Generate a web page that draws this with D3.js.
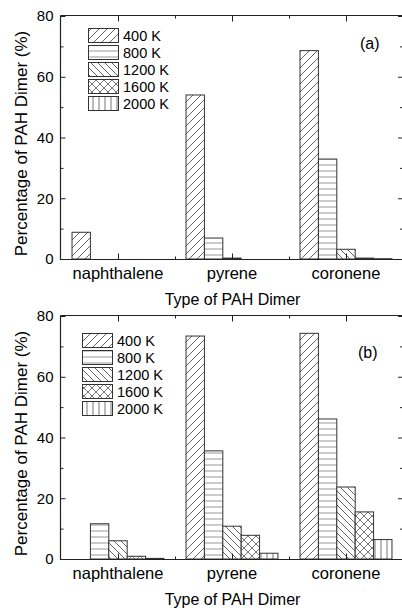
<!DOCTYPE html>
<html><head><meta charset="utf-8">
<script src="https://cdn.jsdelivr.net/npm/d3@7"></script>
<style>body{margin:0;background:#fff}svg{display:block}text{font-family:"Liberation Sans",Arial,sans-serif;fill:#000}</style>
</head><body><svg id="c" width="402" height="608"></svg>
<script>
const categories = ["naphthalene", "pyrene", "coronene"];
const seriesNames = ["400 K", "800 K", "1200 K", "1600 K", "2000 K"];
const yTicks = [0, 20, 40, 60, 80];
// panel (a)
const a400 = [8.8, 54.0, 68.6];
const a800 = [0, 6.9, 32.9];
const a1200 = [0, 0.3, 3.2];
const a1600 = [0, 0, 0.3];
const a2000 = [0, 0, 0.1];
// panel (b)
const b400 = [0, 73.4, 74.3];
const b800 = [11.6, 35.6, 46.1];
const b1200 = [6.0, 10.8, 23.7];
const b1600 = [0.9, 7.8, 15.5];
const b2000 = [0.2, 1.9, 6.4];

const panels = [
  {label: "(a)", top: 16, bottom: 259, vals: [a400, a800, a1200, a1600, a2000], legX: 88, legY: 28, tagX: 360, tagY: 49},
  {label: "(b)", top: 316, bottom: 559, vals: [b400, b800, b1200, b1600, b2000], legX: 82, legY: 333, tagX: 358, tagY: 358}
];

const svg = d3.select("#c");
const defs = svg.append("defs");
const patId = ["p400", "p800", "p1200", "p1600", "p2000"];
function pat(id, w, h, d, col, sw) {
  const p = defs.append("pattern").attr("id", id).attr("patternUnits", "userSpaceOnUse").attr("width", w).attr("height", h);
  p.append("rect").attr("width", w).attr("height", h).attr("fill", "#fff");
  p.append("path").attr("d", d).attr("stroke", col).attr("stroke-width", sw).attr("fill", "none");
}
pat("p400", 8, 8, "M-2,2L2,-2M0,8L8,0M6,10L10,6", "#555", 0.9);
pat("p800", 6, 6, "M0,3H6", "#999", 1);
pat("p1200", 7, 7, "M-2,5L2,9M0,0L7,7M5,-2L9,2", "#555", 0.9);
pat("p1600", 8, 8, "M-2,2L2,-2M0,8L8,0M6,10L10,6M-2,6L2,10M0,0L8,8M6,-2L10,2", "#555", 0.8);
pat("p2000", 6, 6, "M3,0V6", "#666", 0.9);

const left = 61, right = 403;
const x0 = d3.scaleBand().domain(categories).range([left, right]).paddingInner(0).paddingOuter(0);
const x1 = d3.scaleBand().domain(seriesNames).range([0, x0.bandwidth()]).paddingInner(0).paddingOuter(0.6);

panels.forEach(P => {
  const y = d3.scaleLinear().domain([0, 80]).range([P.bottom, P.top]);
  const g = svg.append("g");
  // bars
  seriesNames.forEach((s, si) => {
    g.selectAll(null).data(categories.map((c, ci) => ({c, v: P.vals[si][ci]})).filter(d => d.v > 0))
      .join("rect")
      .attr("x", d => x0(d.c) + x1(s))
      .attr("y", d => y(d.v))
      .attr("width", x1.bandwidth())
      .attr("height", d => y(0) - y(d.v))
      .attr("fill", `url(#${patId[si]})`)
      .attr("stroke", "#333").attr("stroke-width", 1);
  });
  // axes
  const yAxL = d3.axisLeft(y).tickValues(d3.range(0, 81, 10)).tickSize(-5).tickFormat(d => yTicks.includes(d) ? d : "");
  g.append("g").attr("transform", `translate(${left - 0.5},0)`).call(yAxL)
    .call(a => { a.select(".domain").remove(); a.selectAll("text").attr("x", -7).attr("font-size", 15).style("font-family", "Liberation Sans, Arial, sans-serif"); a.selectAll("line").attr("x2", d => d % 20 === 0 ? 5 : 3).attr("stroke", "#222"); });
  const yAxR = d3.axisRight(y).tickValues(d3.range(0, 81, 10)).tickFormat("");
  g.append("g").attr("transform", `translate(${right},0)`).call(yAxR)
    .call(a => { a.select(".domain").remove(); a.selectAll("line").attr("x2", d => d % 20 === 0 ? -5 : -3).attr("stroke", "#222"); });
  // bottom + top tick marks
  const xl = d3.scaleLinear().domain([0, 6]).range([left, right]);
  const xAxB = d3.axisBottom(xl).tickValues(d3.range(1, 6)).tickFormat("");
  g.append("g").attr("transform", `translate(0,${P.bottom + 0.5})`).call(xAxB)
    .call(a => { a.select(".domain").remove(); a.selectAll("line").attr("y2", d => d % 2 === 1 ? -6 : -3).attr("stroke", "#222"); });
  g.append("g").attr("transform", `translate(0,${P.top - 0.5})`).call(d3.axisTop(xl).tickValues(d3.range(1, 6)).tickFormat(""))
    .call(a => { a.select(".domain").remove(); a.selectAll("line").attr("y2", d => d % 2 === 1 ? 6 : 3).attr("stroke", "#222"); });
  // frame
  g.append("path").attr("d", `M${left - 0.5},${P.top - 0.5}H${right}M${left - 0.5},${P.top - 0.5}V${P.bottom + 0.5}H${right}`)
    .attr("stroke", "#222").attr("fill", "none").attr("stroke-width", 1.2);
  // category labels
  g.selectAll(null).data(categories).join("text")
    .attr("x", d => x0(d) + x0.bandwidth() / 2).attr("y", P.bottom + 20)
    .attr("text-anchor", "middle").attr("font-size", 16.5).text(d => d);
  g.append("text").attr("x", (left + right) / 2 + 0.5).attr("y", P.bottom + 46)
    .attr("text-anchor", "middle").attr("font-size", 16).text("Type of PAH Dimer");
  g.append("text").attr("transform", `translate(27,${(P.top + P.bottom) / 2 + 6}) rotate(-90)`)
    .attr("text-anchor", "middle").attr("font-size", 17).text("Percentage of PAH Dimer (%)");
  g.append("text").attr("x", P.tagX).attr("y", P.tagY).attr("font-size", 16).text(P.label);
  // legend
  seriesNames.forEach((s, si) => {
    g.append("rect").attr("x", P.legX + 0.5).attr("y", P.legY + si * 17 + 0.5).attr("width", 30).attr("height", 14)
      .attr("fill", `url(#${patId[si]})`).attr("stroke", "#333");
    g.append("text").attr("x", P.legX + 35).attr("y", P.legY + si * 17 + 13).attr("font-size", 14.5).text(s);
  });
});
</script></body></html>
